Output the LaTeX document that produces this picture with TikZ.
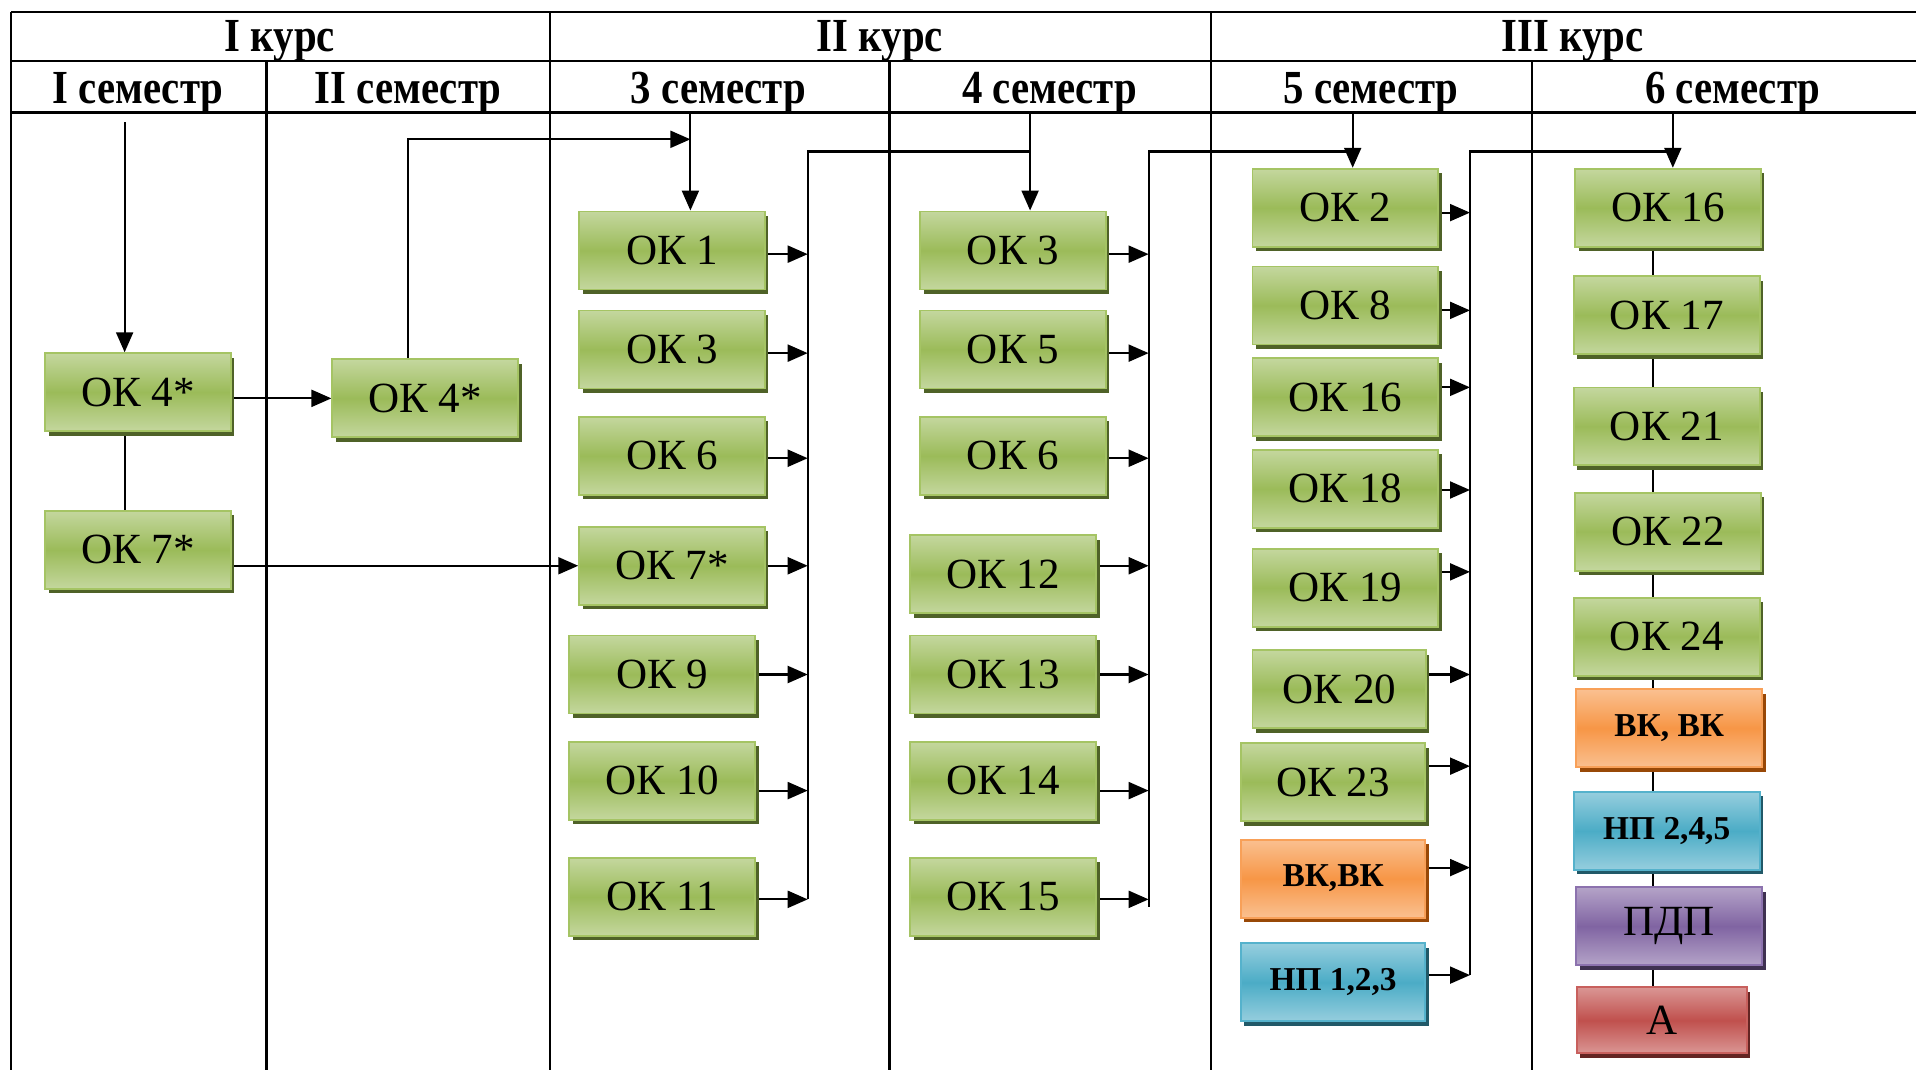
\documentclass[tikz,border=0pt]{standalone}
\usepackage{fontspec}
\setmainfont{Liberation Serif}
\newfontfamily\hdrfont{Liberation Serif}[FakeStretch=0.86]
\usetikzlibrary{arrows.meta,shadows,calc}
\definecolor{gLight}{RGB}{196,215,158}
\definecolor{gMid}{RGB}{155,187,89}
\definecolor{gDark}{RGB}{79,98,40}
\definecolor{gEdge}{RGB}{165,196,100}
\definecolor{oLight}{RGB}{250,192,144}
\definecolor{oMid}{RGB}{247,150,70}
\definecolor{oDark}{RGB}{152,72,7}
\definecolor{oEdge}{RGB}{248,160,88}
\definecolor{bLight}{RGB}{150,206,222}
\definecolor{bMid}{RGB}{75,172,198}
\definecolor{bDark}{RGB}{33,89,104}
\definecolor{bEdge}{RGB}{85,178,204}
\definecolor{pLight}{RGB}{180,163,200}
\definecolor{pMid}{RGB}{128,100,162}
\definecolor{pDark}{RGB}{63,49,81}
\definecolor{pEdge}{RGB}{140,114,174}
\definecolor{rLight}{RGB}{218,150,148}
\definecolor{rMid}{RGB}{192,80,77}
\definecolor{rDark}{RGB}{99,37,35}
\definecolor{rEdge}{RGB}{200,96,93}
\pgfdeclarelayer{bg}
\pgfsetlayers{bg,main}
\newcommand\busarr[3]{\draw[arr] ($(#1.east)+(0,#3)$) -- ($(#1.east -| #2)+(0,#3)$);}
\begin{document}
\begin{tikzpicture}[x=0.02444cm,y=-0.02444cm,
  tline/.style={line width=1.3pt},
  conn/.style={line width=1.2pt},
  arr/.style={conn,-{Triangle[length=0.4cm,width=0.34cm]}},
  hdr/.style={font=\fontsize{27}{30}\hdrfont\bfseries},
  box/.style={rectangle, inner sep=0pt, minimum width=3.715cm, minimum height=1.56cm, line width=1.1pt, font=\fontsize{24.5}{28}\selectfont},
  gbox/.style={box, draw=gEdge, top color=gLight, bottom color=gLight, middle color=gMid,
    drop shadow={fill=gDark, opacity=1, shadow xshift=0.07cm, shadow yshift=-0.09cm}},
  obox/.style={box, draw=oEdge, top color=oLight, bottom color=oLight, middle color=oMid,
    font=\fontsize{19}{23}\selectfont\bfseries,
    drop shadow={fill=oDark, opacity=1, shadow xshift=0.07cm, shadow yshift=-0.09cm}},
  bbox/.style={box, draw=bEdge, top color=bLight, bottom color=bLight, middle color=bMid,
    font=\fontsize{19}{23}\selectfont\bfseries,
    drop shadow={fill=bDark, opacity=1, shadow xshift=0.07cm, shadow yshift=-0.09cm}},
  pbox/.style={box, draw=pEdge, top color=pLight, bottom color=pLight, middle color=pMid,
    drop shadow={fill=pDark, opacity=1, shadow xshift=0.07cm, shadow yshift=-0.09cm}},
  rbox/.style={box, draw=rEdge, top color=rLight, bottom color=rLight, middle color=rMid,
    drop shadow={fill=rDark, opacity=1, shadow xshift=0.07cm, shadow yshift=-0.09cm}}
]
\useasboundingbox (0,0) rectangle (1568,876);
% table
\draw[tline] (9,10) -- (1568,10);
\draw[tline] (9,50) -- (1568,50);
\draw[tline] (9,92) -- (1568,92);
\draw[tline] (9,10) -- (9,876);
\draw[tline] (450,10) -- (450,876);
\draw[tline] (991,10) -- (991,876);
\draw[tline] (218,50) -- (218,876);
\draw[tline] (728,50) -- (728,876);
\draw[tline] (1254,50) -- (1254,876);
\node[hdr] (k1) at (229,34) {I курс};
\node[hdr] (k2) at (720,34) {II курс};
\node[hdr] (k3) at (1287,34) {III курс};
\node[hdr] (s1) at (113,76) {I семестр};
\node[hdr] (s2) at (334,76) {II семестр};
\node[hdr] (s3) at (588,76) {3 семестр};
\node[hdr] (s4) at (859,76) {4 семестр};
\node[hdr] (s5) at (1122,76) {5 семестр};
\node[hdr] (s6) at (1418,76) {6 семестр};
% column 1
\node[gbox] (o41) at (113,321) {ОК 4*};
\node[gbox] (o71) at (113,450) {ОК 7*};
% column 2
\node[gbox] (o42) at (348,326) {ОК 4*};
% column 3
\node[gbox] (c3a) at (550,205) {ОК 1};
\node[gbox] (c3b) at (550,286) {ОК 3};
\node[gbox] (c3c) at (550,373) {ОК 6};
\node[gbox] (c3d) at (550,463) {ОК 7*};
\node[gbox] (c3e) at (542,552) {ОК 9};
\node[gbox] (c3f) at (542,639) {ОК 10};
\node[gbox] (c3g) at (542,734) {ОК 11};
% column 4
\node[gbox] (c4a) at (829,205) {ОК 3};
\node[gbox] (c4b) at (829,286) {ОК 5};
\node[gbox] (c4c) at (829,373) {ОК 6};
\node[gbox] (c4d) at (821,470) {ОК 12};
\node[gbox] (c4e) at (821,552) {ОК 13};
\node[gbox] (c4f) at (821,639) {ОК 14};
\node[gbox] (c4g) at (821,734) {ОК 15};
% column 5
\node[gbox] (c5a) at (1101,170) {ОК 2};
\node[gbox] (c5b) at (1101,250) {ОК 8};
\node[gbox] (c5c) at (1101,325) {ОК 16};
\node[gbox] (c5d) at (1101,400) {ОК 18};
\node[gbox] (c5e) at (1101,481) {ОК 19};
\node[gbox, minimum width=3.47cm] (c5f) at (1096,564) {ОК 20};
\node[gbox, minimum width=3.69cm] (c5g) at (1091,640) {ОК 23};
\node[obox, minimum width=3.69cm] (c5h) at (1091,719) {ВК,ВК};
\node[bbox, minimum width=3.69cm] (c5i) at (1091,804) {НП 1,2,3};
% column 6
\node[gbox] (c6a) at (1365,170) {ОК 16};
\node[gbox] (c6b) at (1364,258) {ОК 17};
\node[gbox] (c6c) at (1364,349) {ОК 21};
\node[gbox] (c6d) at (1365,435) {ОК 22};
\node[gbox] (c6e) at (1364,521) {ОК 24};
\node[obox] (c6f) at (1366,596) {ВК, ВК};
\node[bbox] (c6g) at (1364,680) {НП 2,4,5};
\node[pbox] (c6h) at (1366,758) {ПДП};
\node[rbox, minimum width=3.40cm, minimum height=1.32cm] (c6i) at (1360,835) {А};
% coordinates
\coordinate (v1) at (102,100);
\coordinate (v2) at (334,114);
\coordinate (t3m) at (565,114);
\coordinate (t3) at (565,92);
\coordinate (t4) at (843,92);
\coordinate (t5) at (1107,92);
\coordinate (t6) at (1369,92);
\coordinate (b3t) at (661,124);
\coordinate (b3b) at (661,736);
\coordinate (b4t) at (940,124);
\coordinate (b4b) at (940,742);
\coordinate (b5t) at (1203,124);
\coordinate (b5b) at (1203,798);
\coordinate (v6) at (1353,100);
\begin{pgfonlayer}{bg}
% column 1 and 2
\draw[arr] (v1) -- (v1 |- o41.north);
\draw[conn] (o41.south -| v1) -- (o71.north -| v1);
\draw[arr] (o41.east |- o42.west) -- (o42.west);
\draw[arr] (o71.east |- c3d.west) -- (c3d.west);
\draw[arr] (o42.north -| v2) -- (v2) -- (t3m);
% column 3
\draw[arr] (t3) -- (t3 |- c3a.north);
\draw[conn] (b3b) -- (b3t) -- (t4 |- b3t);
\busarr{c3a}{b3t}{3}
\busarr{c3b}{b3t}{3}
\busarr{c3c}{b3t}{2}
\busarr{c3d}{b3t}{0}
\busarr{c3e}{b3t}{0}
\busarr{c3f}{b3t}{8}
\busarr{c3g}{b3t}{2}
% column 4
\draw[arr] (t4) -- (t4 |- c4a.north);
\draw[conn] (b4b) -- (b4t) -- (t5 |- b4t);
\busarr{c4a}{b4t}{3}
\busarr{c4b}{b4t}{3}
\busarr{c4c}{b4t}{2}
\busarr{c4d}{b4t}{-7}
\busarr{c4e}{b4t}{0}
\busarr{c4f}{b4t}{8}
\busarr{c4g}{b4t}{2}
% column 5
\draw[arr] (t5) -- (t5 |- c5a.north);
\draw[conn] (b5b) -- (b5t) -- (t6 |- b5t);
\busarr{c5a}{b5t}{4}
\busarr{c5b}{b5t}{4}
\busarr{c5c}{b5t}{-8}
\busarr{c5d}{b5t}{1}
\busarr{c5e}{b5t}{-13}
\busarr{c5f}{b5t}{-12}
\busarr{c5g}{b5t}{-13}
\busarr{c5h}{b5t}{-9}
\busarr{c5i}{b5t}{-6}
% column 6
\draw[arr] (t6) -- (t6 |- c6a.north);
\draw[conn] (c6a.south -| v6) -- (c6b.north -| v6);
\draw[conn] (c6b.south -| v6) -- (c6c.north -| v6);
\draw[conn] (c6c.south -| v6) -- (c6d.north -| v6);
\draw[conn] (c6d.south -| v6) -- (c6e.north -| v6);
\draw[conn] (c6e.south -| v6) -- (c6f.north -| v6);
\draw[conn] (c6f.south -| v6) -- (c6g.north -| v6);
\draw[conn] (c6g.south -| v6) -- (c6h.north -| v6);
\draw[conn] (c6h.south -| v6) -- (c6i.north -| v6);
\end{pgfonlayer}
\end{tikzpicture}
\end{document}
